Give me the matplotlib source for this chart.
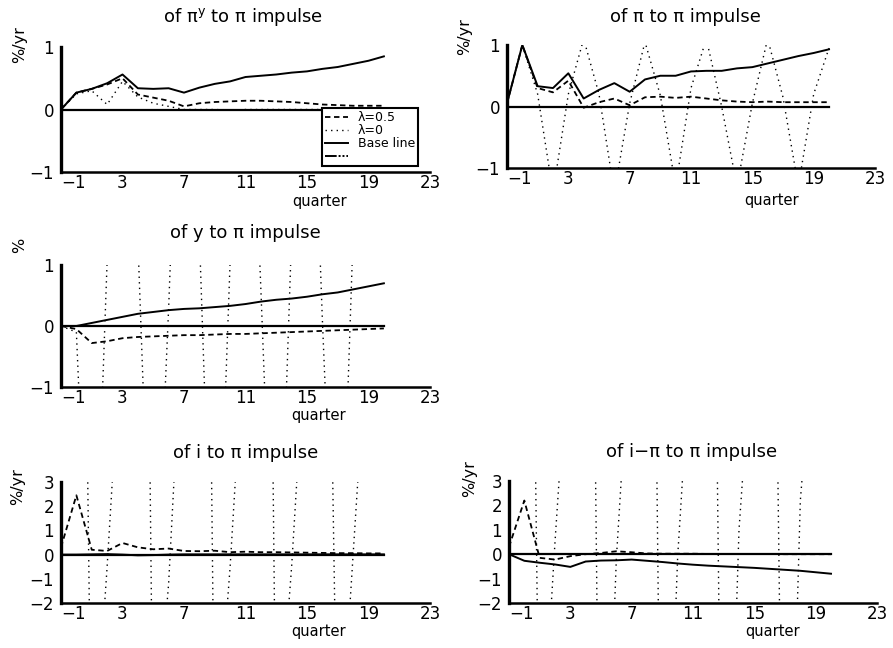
import matplotlib
matplotlib.use("Agg")
import matplotlib.pyplot as plt
from matplotlib.lines import Line2D

plt.rcParams['font.family'] = ['DejaVu Sans']

# ---------------- data ----------------
quarters = list(range(-1, 21))
xticks = [-1, 3, 7, 11, 15, 19, 23]
zero_line = [0.0] * len(quarters)

# panel 1: of pi^y to pi impulse
p1_base = [0, 0.27, 0.33, 0.42, 0.56, 0.34, 0.33, 0.34, 0.27, 0.35, 0.41,
           0.45, 0.52, 0.54, 0.56, 0.59, 0.61, 0.65, 0.68, 0.73, 0.78, 0.85]
p1_lam05 = [0, 0.27, 0.33, 0.40, 0.50, 0.24, 0.19, 0.14, 0.05, 0.10, 0.12,
            0.13, 0.14, 0.14, 0.13, 0.12, 0.10, 0.08, 0.07, 0.06, 0.06, 0.06]
p1_lam0 = [0, 0.25, 0.30, 0.08, 0.45, 0.20, 0.10, 0.05, 0.0, 0.0, 0.0,
           -0.01, 0.0, 0.0, 0.0, 0.0, 0.0, 0.0, 0.0, 0.0, 0.0, 0.0]

# panel 2: of pi to pi impulse
p2_base = [0.05, 1.0, 0.33, 0.30, 0.54, 0.13, 0.27, 0.38, 0.24, 0.44, 0.50,
           0.50, 0.57, 0.58, 0.58, 0.62, 0.64, 0.70, 0.76, 0.82, 0.87, 0.93]
p2_lam05 = [0.05, 1.0, 0.30, 0.23, 0.42, -0.02, 0.07, 0.13, 0.02, 0.15, 0.16,
            0.14, 0.16, 0.13, 0.10, 0.08, 0.07, 0.08, 0.07, 0.07, 0.07, 0.07]
p2_lam0 = [0.05, 1.0, 0.20, -1.4, 0.20, 1.1, 0.20, -1.4, 0.05, 1.05, 0.18,
           -1.3, 0.30, 1.1, 0.0, -1.3, 0.05, 1.1, 0.15, -1.3, 0.20, 0.95]

# panel 3: of y to pi impulse
p3_base = [0, 0.0, 0.05, 0.10, 0.15, 0.20, 0.23, 0.26, 0.28, 0.29, 0.31,
           0.33, 0.36, 0.40, 0.43, 0.45, 0.48, 0.52, 0.55, 0.60, 0.65, 0.70]
p3_lam05 = [0, -0.05, -0.28, -0.25, -0.20, -0.18, -0.17, -0.16, -0.15, -0.15, -0.14,
            -0.13, -0.13, -0.12, -0.11, -0.10, -0.09, -0.08, -0.07, -0.06, -0.05, -0.04]
p3_lam0 = [0, -0.1, -6.0, 1.06, 8.0, 1.4, -5.6, 0.29, 7.0, 1.5, -6.0,
           1.06, 7.0, 0.6, -6.0, 1.5, 7.0, 0.1, -6.0, 1.5, 7.0, 6.0]

# panel 4: of i to pi impulse
p4_base = [0, 0.0, 0.01, 0.02, 0.0, -0.03, -0.02, 0.0, 0.01, 0.01, 0.01,
           0.01, 0.01, 0.01, 0.01, 0.01, 0.01, 0.01, 0.01, 0.01, 0.01, 0.01]
p4_lam05 = [0.3, 2.45, 0.20, 0.15, 0.48, 0.30, 0.22, 0.25, 0.15, 0.14, 0.16,
            0.10, 0.12, 0.10, 0.10, 0.09, 0.08, 0.07, 0.06, 0.06, 0.05, 0.05]
p4_lam0 = [0, 40.0, -10.0, -0.5, 10.0, 50.0, -9.0, -1.2, 11.0, 50.0, -9.0,
           -0.5, 10.0, 50.0, -9.0, -0.5, 10.0, 30.0, -10.0, 0.0, 10.0, 12.0]

# panel 5: of i-pi to pi impulse
p5_base = [0, -0.27, -0.35, -0.42, -0.52, -0.30, -0.26, -0.25, -0.22, -0.27, -0.32,
           -0.38, -0.43, -0.47, -0.50, -0.53, -0.56, -0.60, -0.64, -0.68, -0.74, -0.80]
p5_lam05 = [0.3, 2.2, -0.15, -0.22, -0.08, 0.0, 0.05, 0.12, 0.08, 0.03, 0.02,
            0.02, 0.02, 0.01, 0.01, 0.01, 0.01, 0.01, 0.0, 0.0, 0.0, 0.0]
p5_lam0 = [0, 40.0, -10.0, 0.5, 10.0, 40.0, -17.0, -0.2, 10.0, 40.0, -17.0,
           -0.1, 10.0, 35.0, -19.0, 1.0, 10.0, 30.0, -20.0, 2.2, 10.0, 8.0]

titles = ["of π$^{\\mathregular{y}}$ to π impulse", "of π to π impulse",
          "of y to π impulse", "of i to π impulse", "of i−π to π impulse"]
ylabels = ["%/yr", "%/yr", "%", "%/yr", "%/yr"]
legend_labels = ["λ=0.5", "λ=0", "Base line", " "]

# ---------------- layout ----------------
W, H = 893, 648
fig = plt.figure(figsize=(W / 100, H / 100), dpi=100)


def px_axes(x0, x1, ytop, ybot):
    return [x0 / W, 1 - ybot / H, (x1 - x0) / W, (ybot - ytop) / H]


panels = [
    dict(rect=px_axes(61, 430, 47, 172), ylim=(-1, 1), yticks=[-1, 0, 1],
         series=(p1_lam05, p1_lam0, p1_base), ylab=(-0.111, 1.016), tit=(0.493, 1.24),
         xl=(0.70, -0.236)),
    dict(rect=px_axes(507, 875, 45, 168), ylim=(-1, 1), yticks=[-1, 0, 1],
         series=(p2_lam05, p2_lam0, p2_base), ylab=(-0.114, 1.065), tit=(0.484, 1.228),
         xl=(0.72, -0.262)),
    dict(rect=px_axes(61, 430, 265, 387), ylim=(-1, 1), yticks=[-1, 0, 1],
         series=(p3_lam05, p3_lam0, p3_base), ylab=(-0.111, 1.16), tit=(0.499, 1.262),
         xl=(0.697, -0.235)),
    dict(rect=px_axes(61, 430, 482, 603), ylim=(-2, 3), yticks=[-2, -1, 0, 1, 2, 3],
         series=(p4_lam05, p4_lam0, p4_base), ylab=(-0.117, 0.96), tit=(0.499, 1.24),
         xl=(0.697, -0.235)),
    dict(rect=px_axes(509, 877, 481, 603), ylim=(-2, 3), yticks=[-2, -1, 0, 1, 2, 3],
         series=(p5_lam05, p5_lam0, p5_base), ylab=(-0.106, 1.02), tit=(0.497, 1.238),
         xl=(0.715, -0.235)),
]

dash_style = (0, (3.0, 2.0))
dot_style = (0, (1.0, 3.0))

for i, p in enumerate(panels):
    ax = fig.add_axes(p['rect'])
    lam05, lam0, base = p['series']
    h1, = ax.plot(quarters, lam05, color='black', lw=1.3, linestyle=dash_style)
    h2, = ax.plot(quarters, lam0, color='black', lw=1.0, linestyle=dot_style)
    h3, = ax.plot(quarters, base, color='black', lw=1.4, linestyle='-')
    h4, = ax.plot(quarters, zero_line, color='black', lw=1.6, linestyle='-')
    ax.set_xlim(-1, 23)
    ax.set_ylim(*p['ylim'])
    ax.set_xticks(xticks)
    ax.set_xticklabels([str(t).replace('-', '−') for t in xticks])
    ax.get_xticklabels()[0].set_horizontalalignment('left')
    ax.set_yticks(p['yticks'])
    ax.spines['top'].set_visible(False)
    ax.spines['right'].set_visible(False)
    ax.spines['left'].set_linewidth(2.4)
    ax.spines['bottom'].set_linewidth(1.8)
    ax.tick_params(axis='x', length=0, pad=1.5, labelsize=12)
    ax.tick_params(axis='y', length=0, pad=5, labelsize=12)
    ax.set_title(titles[i], x=p['tit'][0], y=p['tit'][1], va='center', fontsize=13, pad=0)
    ax.set_xlabel("quarter", fontsize=10.5, va='center')
    ax.xaxis.set_label_coords(*p['xl'])
    ax.text(p['ylab'][0], p['ylab'][1], ylabels[i], transform=ax.transAxes,
            rotation=90, ha='center', va='center', fontsize=11.5)
    if i == 0:
        h4leg = Line2D([], [], color='black', lw=1.4, linestyle=(0, (6, 1, 1, 1, 1, 1)))
        leg = ax.legend([h1, h2, h3, h4leg], legend_labels, loc='upper left',
                        bbox_to_anchor=(0.707, 0.512), fontsize=9, frameon=True,
                        fancybox=False, framealpha=1, edgecolor='black',
                        borderpad=0.25, labelspacing=0.0, handlelength=1.8,
                        handletextpad=0.8, borderaxespad=0)
        leg.get_frame().set_linewidth(1.5)

fig.savefig("out.png", dpi=100)
